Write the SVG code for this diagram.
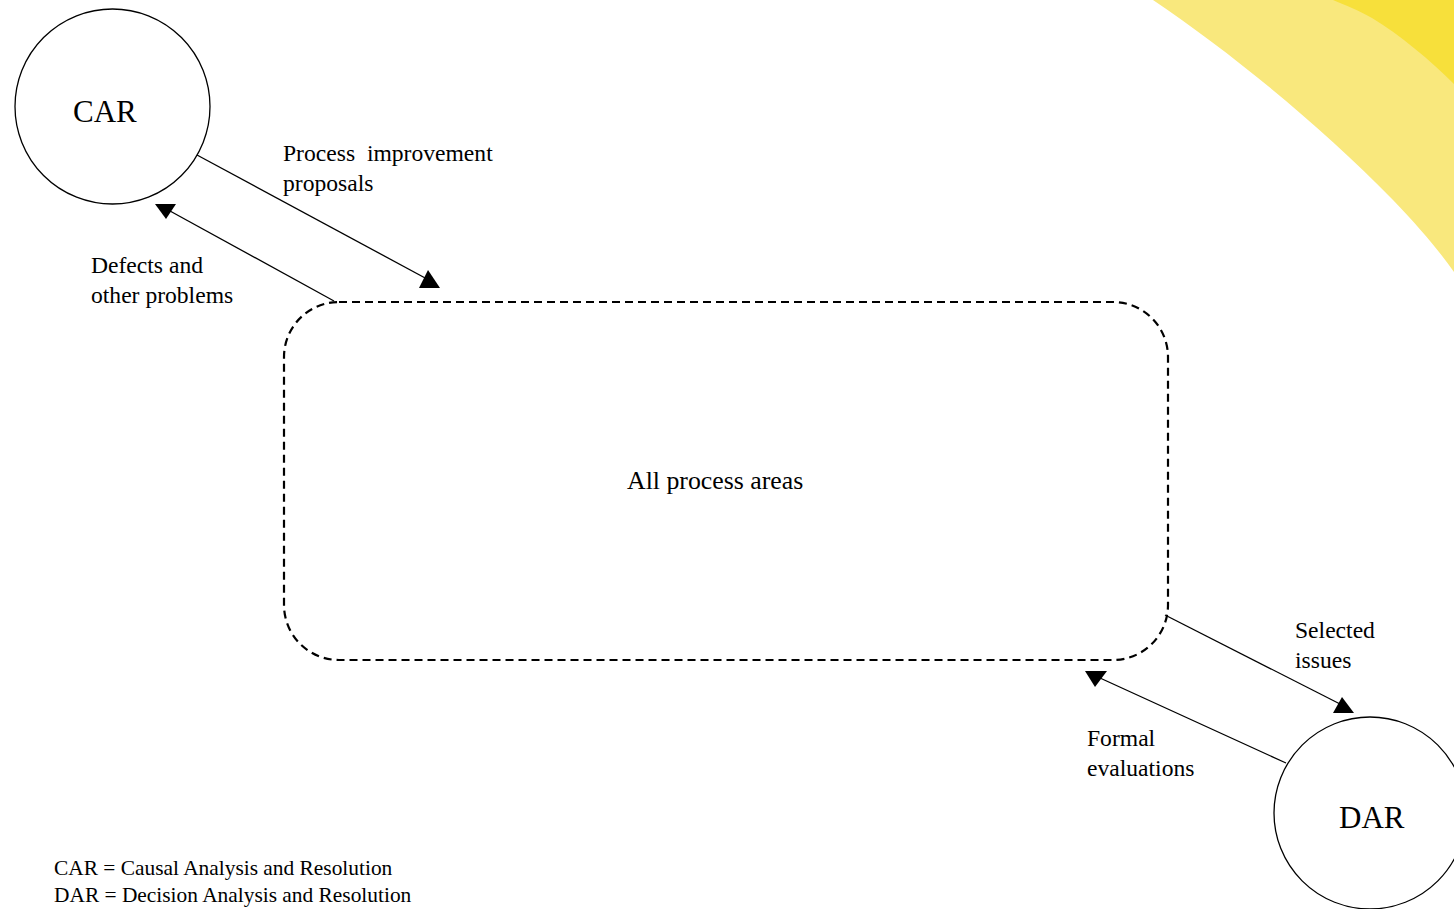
<svg xmlns="http://www.w3.org/2000/svg" width="1454" height="909" viewBox="0 0 1454 909">
  <style>
    .txt { font-family: "Liberation Serif", "Times New Roman", serif; fill: #000; }
    .lbl { font-size: 23.6px; }
    .big { font-size: 31px; }
    .note { font-size: 21.4px; }
    .node { fill: #fff; stroke: #000; stroke-width: 1.3; }
    .area { fill: none; stroke: #000; stroke-width: 2.2; stroke-dasharray: 8 5; }
    .conn { stroke: #000; stroke-width: 1.3; fill: none; }
    .head { fill: #000; stroke: none; }
  </style>

  <rect width="1454" height="909" fill="#fff"/>

  <!-- decorative corner swoosh -->
  <g id="swoosh">
    <path d="M1153,0 C1230,52 1320,125 1393,200 C1420,228 1440,252 1454,272 L1454,0 Z" fill="#f9e87d"/>
    <path d="M1333,0 C1345,5 1360,11 1372,18 C1400,35 1430,60 1454,84 L1454,0 Z" fill="#f7e03b"/>
  </g>

  <!-- connectors -->
  <g id="connectors">
    <line class="conn" x1="197" y1="155" x2="427" y2="279"/>
    <polygon class="head" points="419,288 440,288 428,270"/>

    <line class="conn" x1="334" y1="301" x2="170" y2="211"/>
    <polygon class="head" points="155,204 176,204 166,219"/>

    <line class="conn" x1="1165" y1="615" x2="1342" y2="705"/>
    <polygon class="head" points="1333,713 1354,713 1342,697"/>

    <line class="conn" x1="1286" y1="763" x2="1100" y2="678"/>
    <polygon class="head" points="1085,671 1107,671 1095,687"/>
  </g>

  <g id="node-all">
    <rect class="area" x="284" y="302" width="884" height="358" rx="55" ry="55"/>
    <text class="txt" x="627" y="489" font-size="25.8">All process areas</text>
  </g>

  <g id="node-car">
    <circle class="node" cx="112.5" cy="106.5" r="97.5"/>
    <text class="txt big" x="73" y="122">CAR</text>
  </g>

  <g id="node-dar">
    <circle class="node" cx="1370" cy="813" r="96"/>
    <text class="txt big" x="1339" y="828">DAR</text>
  </g>

  <!-- connector labels -->
  <g id="labels">
    <text class="txt lbl" x="283" y="161" xml:space="preserve">Process  improvement</text>
    <text class="txt lbl" x="283" y="191">proposals</text>
    <text class="txt lbl" x="91" y="273">Defects and</text>
    <text class="txt lbl" x="91" y="303">other problems</text>
    <text class="txt lbl" x="1295" y="638">Selected</text>
    <text class="txt lbl" x="1295" y="668">issues</text>
    <text class="txt lbl" x="1087" y="746">Formal</text>
    <text class="txt lbl" x="1087" y="776">evaluations</text>
  </g>

  <g id="legend">
    <text class="txt note" x="54" y="875">CAR = Causal Analysis and Resolution</text>
    <text class="txt note" x="54" y="902">DAR = Decision Analysis and Resolution</text>
  </g>
</svg>
